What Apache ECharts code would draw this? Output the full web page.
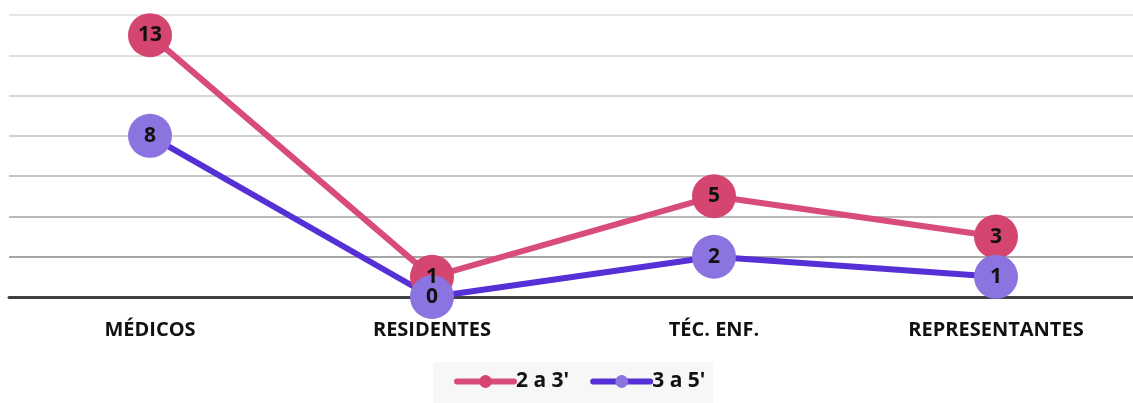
<!DOCTYPE html>
<html>
<head>
<meta charset="utf-8">
<script src="https://cdn.jsdelivr.net/npm/echarts@6/dist/echarts.min.js"></script>
<style>
  html, body { margin: 0; padding: 0; background: #fff; overflow: hidden; }
  #chart { width: 1137px; height: 403px; }
</style>
</head>
<body>
<div id="chart"></div>
<script>
const categories = ['MÉDICOS', 'RESIDENTES', 'TÉC. ENF.', 'REPRESENTANTES'];
const seriesNames = ["2 a 3'", "3 a 5'"];
const values2a3 = [13, 1, 5, 3];
const values3a5 = [8, 0, 2, 1];

const chart = echarts.init(document.getElementById('chart'));
const font = '"Open Sans", "Noto Sans", sans-serif';

function lineSeries(name, data, lineColor, dotColor) {
  return {
    name: name,
    type: 'line',
    data: data,
    z: 2,
    symbol: 'circle',
    symbolSize: 44,
    showAllSymbol: true,
    lineStyle: { color: lineColor, width: 6 },
    itemStyle: { color: dotColor },
    label: {
      show: true,
      position: 'inside',
      color: '#111',
      fontFamily: font,
      fontWeight: 'bold',
      fontSize: 21
    },
    emphasis: { disabled: true },
    animation: false
  };
}

chart.setOption({
  animation: false,
  grid: { left: 9, right: 0, top: 15, bottom: 106 },
  legend: {
    left: 433,
    bottom: 0,
    padding: [9, 8, 11, 21],
    itemGap: 21,
    itemWidth: 57,
    itemHeight: 16,
    backgroundColor: '#f7f7f7',
    lineStyle: { width: 6, cap: 'round' },
    textStyle: {
      fontFamily: font, fontWeight: 'bold', fontSize: 21, color: '#111',
      padding: [0, 0, 0, -3]
    },
    data: seriesNames
  },
  xAxis: {
    type: 'category',
    data: categories,
    boundaryGap: true,
    axisLine: { lineStyle: { color: '#404040', width: 3 } },
    axisTick: { show: false },
    axisLabel: {
      margin: 23,
      color: '#111',
      fontFamily: font,
      fontWeight: 'bold',
      fontSize: 20
    }
  },
  yAxis: {
    type: 'value',
    min: 0,
    max: 14,
    interval: 2,
    axisLabel: { show: false },
    axisLine: { show: false },
    axisTick: { show: false },
    splitLine: {
      lineStyle: {
        width: 2,
        color: ['#404040', '#a6a6a6', '#b8b8b8', '#c6c6c6', '#d0d0d0', '#d8d8d8', '#e0e0e0', '#e6e6e6']
      }
    }
  },
  series: [
    lineSeries(seriesNames[0], values2a3, '#d84c7b', '#d4466f'),
    lineSeries(seriesNames[1], values3a5, '#5530d6', '#8b73e0')
  ]
});
</script>
</body>
</html>
